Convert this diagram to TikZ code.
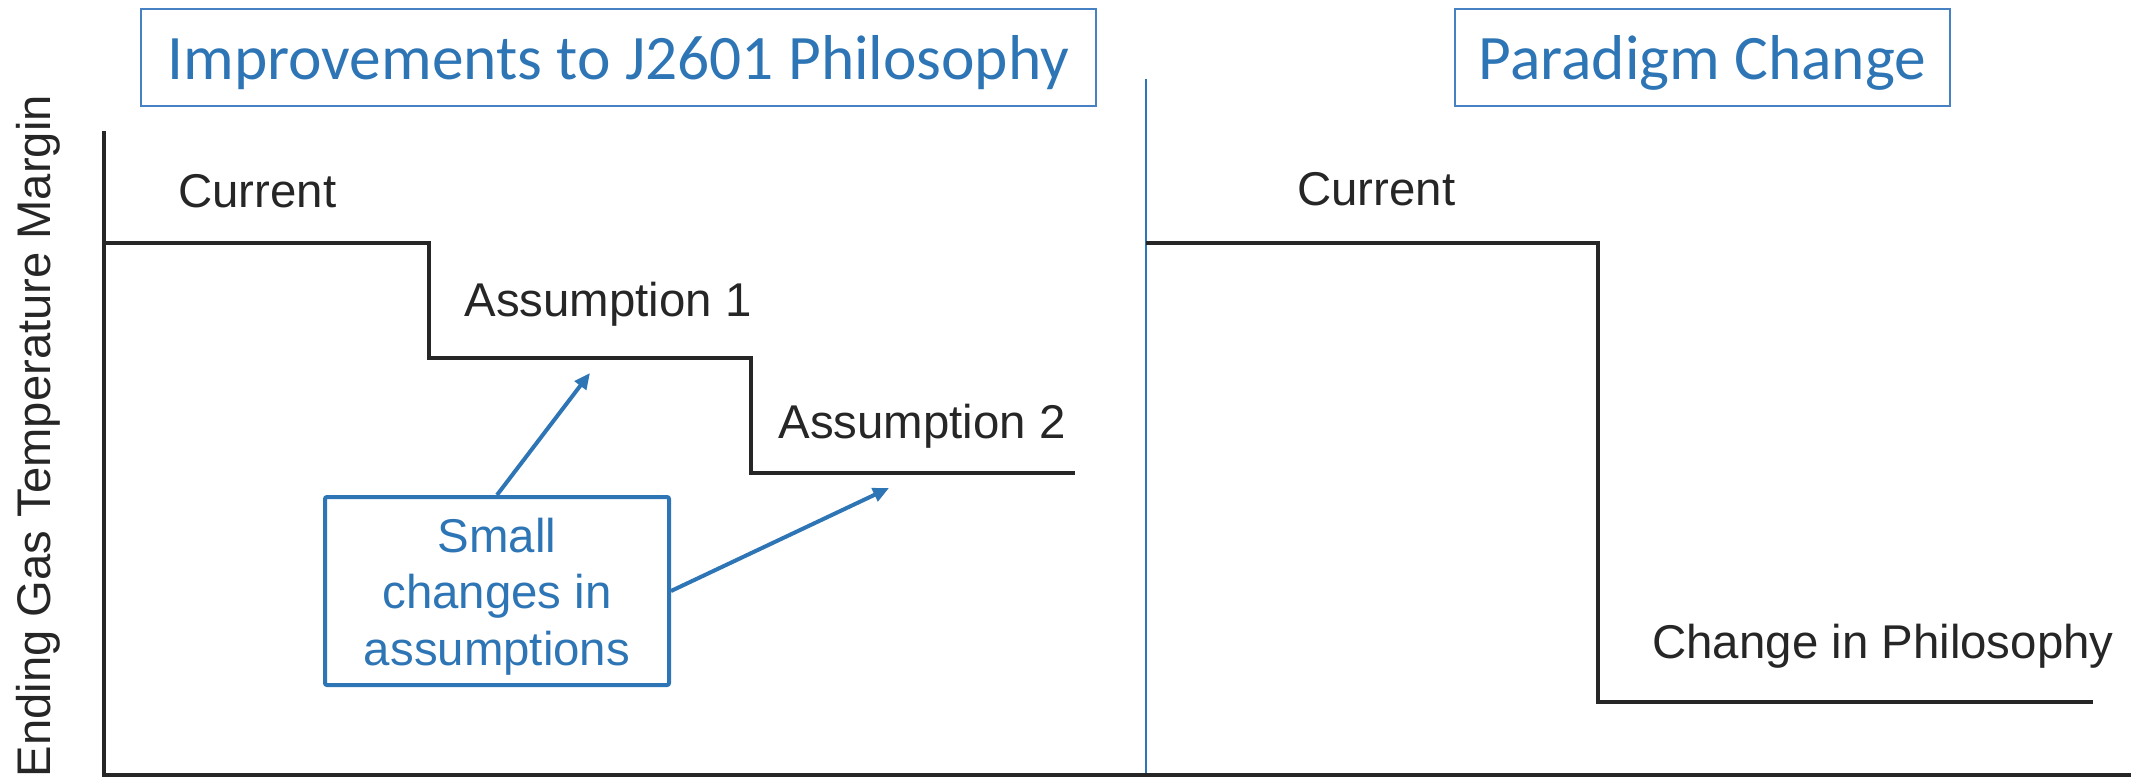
\documentclass[tikz,border=0pt]{standalone}
\usepackage{fontspec}
\newfontfamily\arialf{Liberation Sans}
\newfontfamily\calibrif{Carlito}
\usetikzlibrary{arrows.meta}
\definecolor{hblue}{RGB}{46,117,182}
\definecolor{bblue}{RGB}{70,130,195}
\definecolor{lineblk}{RGB}{38,38,38}
\tikzset{
  lbl/.style={anchor=base west, inner sep=0pt, text=lineblk, font=\arialf\fontsize{23.7pt}{28pt}\selectfont},
  btxt/.style={anchor=base, inner sep=0pt, text=hblue, font=\arialf\fontsize{23.7pt}{28pt}\selectfont},
  titlebox/.style={draw=bblue, line width=1pt, inner sep=0pt, text=hblue,
     font=\calibrif\fontsize{31.7pt}{36pt}\selectfont, text height=29pt, text depth=7.5pt},
  stepline/.style={draw=lineblk, line width=2pt},
  callout/.style={draw=hblue, line width=2pt, rounded corners=1pt, inner sep=0pt},
  arr/.style={draw=hblue, line width=2pt, -{Triangle[length=8pt,width=7pt]}}
}
\begin{document}
\begin{tikzpicture}[x=0.5pt,y=-0.5pt]
\useasboundingbox (0,0) rectangle (2131,777);
% titles
\node[titlebox, minimum width=477.5pt, minimum height=48.5pt] (t1) at (618.5,57.5) {Improvements to J2601 Philosophy};
\node[titlebox, minimum width=247.5pt, minimum height=48.5pt] (t2) at (1702.5,57.5) {Paradigm Change};
% divider
\draw[hblue, line width=1pt] (1146,79) -- (1146,777);
% axes
\draw[stepline, line cap=rect] (104,133) -- (104,775) -- (2131,775);
% y label
\node[rotate=90, anchor=base, inner sep=0pt, text=lineblk, font=\arialf\fontsize{23.6pt}{28pt}\selectfont] (ylab) at (50,436) {Ending Gas Temperature Margin};
% left steps
\draw[stepline] (104,243) -- (429,243) -- (429,358) -- (751,358) -- (751,473) -- (1075,473);
% right steps
\draw[stepline] (1146,243) -- (1598,243) -- (1598,702) -- (2093,702);
% labels
\node[lbl] (curL) at (178,207) {Current};
\node[lbl] (as1) at (464,316) {Assumption 1};
\node[lbl] (as2) at (778,438) {Assumption 2};
\node[lbl] (curR) at (1297,205) {Current};
\node[lbl] (chg) at (1652,658) {Change in Philosophy};
% callout box
\node[callout, minimum width=172pt, minimum height=94pt] (sbox) at (497,591) {};
\node[btxt] (s1) at (497,552) {Small};
\node[btxt] (s2) at (497,608) {changes in};
\node[btxt] (s3) at (497,665) {assumptions};
% arrows
\coordinate (tipA) at (590,373);
\coordinate (tipB) at (889,488);
\draw[arr] (sbox.north) -- (tipA);
\draw[arr] (sbox.east) -- (tipB);
\end{tikzpicture}
\end{document}
